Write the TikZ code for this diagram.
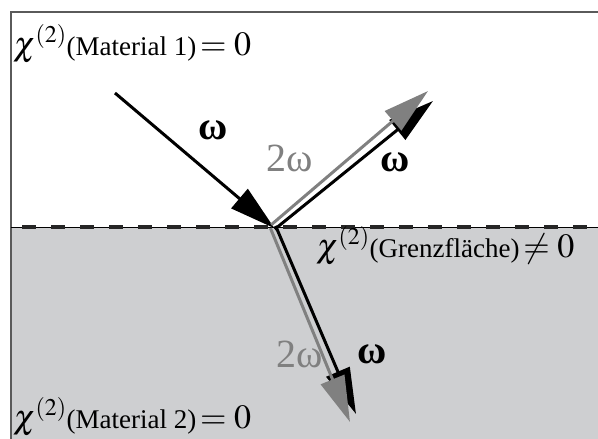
\documentclass[tikz,border=0pt]{standalone}
\usepackage{mathptmx}
\usepackage{fontspec}
\setmainfont{Liberation Serif}
\usetikzlibrary{arrows.meta}
\definecolor{medium}{RGB}{206,207,209}
\definecolor{beam}{RGB}{128,128,128}
% Formeln groesser als der Text
\DeclareMathSizes{27}{34}{24}{17}

\begin{document}
\begin{tikzpicture}[x=1pt, y=-1pt,
  ray/.style={line width=3pt, -{Triangle[length=46pt, width=25pt]}},
  lbl/.style={font=\fontsize{27}{27}\selectfont, inner sep=0pt},
  om/.style={font=\fontsize{40}{40}\selectfont, inner sep=0pt},
  omb/.style={om, font=\fontsize{40}{40}\selectfont\bfseries}]
  \useasboundingbox (0,0) rectangle (598,439);
  \coordinate (O) at (273,227);
  \coordinate (I) at (115,93);
  \coordinate (R) at (430,95);
  \coordinate (T) at (353,418);
  % Material 2 und Rahmen
  \fill[medium] (11,227) rectangle (598,439);
  \draw[beam!70!black, line width=1.5pt] (11,439) -- (11,12) -- (598,12);
  % Grenzflaeche
  \draw[black, line width=0.8pt] (11,227) -- (598,227);
  \draw[black!85, line width=4pt, dash pattern=on 14pt off 15pt, dash phase=-11pt]
    (11,227) -- (598,227);
  % einfallend
  \draw[ray, shorten >=-2pt] (I) -- (O);
  % reflektiert: omega (schwarz) und 2omega (grau)
  \draw[ray] ([shift={(1.8,2.2)}]O) -- ([shift={(3,6)}]R);
  \draw[ray, beam] ([shift={(-1.8,-2.2)}]O) -- ([shift={(-2,-4)}]R);
  % transmittiert
  \draw[ray] ([shift={(2.6,-1.1)}]O) -- ([shift={(3,-4)}]T);
  \draw[ray, beam] ([shift={(-2.6,1.1)}]O) -- ([shift={(-3,4)}]T);
  \node[lbl, anchor=base west] (m1) at (13,55) {$\chi^{(2)}$(Material 1)$\,=0$};
  \node[lbl, anchor=base west] (m2) at (13,428) {$\chi^{(2)}$(Material 2)$\,=0$};
  \node[lbl, anchor=base west] (gf) at (316,257) {$\chi^{(2)}$(Grenzfläche)$\,\neq0$};
  \node[omb] (w1) at (213,130) {ω};
  \node[om, beam] (w2r) at (290,158) {2ω};
  \node[omb] (w1r) at (395,162) {ω};
  \node[om, beam] (w2t) at (300,354) {2ω};
  \node[omb] (w1t) at (372,354) {ω};
\end{tikzpicture}
\end{document}
